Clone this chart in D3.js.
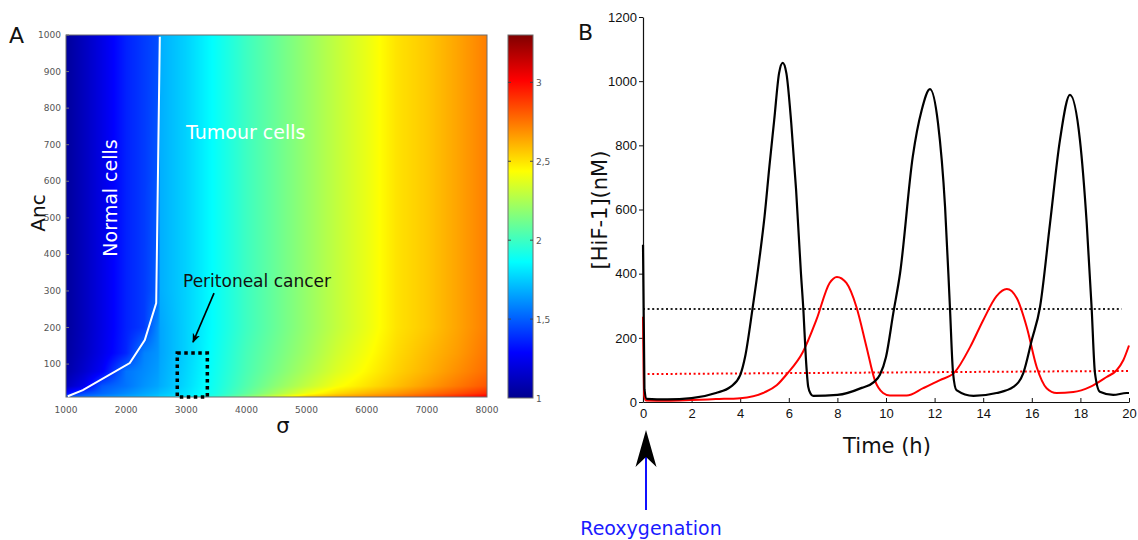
<!DOCTYPE html>
<html><head><meta charset="utf-8">
<script src="https://cdn.jsdelivr.net/npm/d3@7/dist/d3.min.js"></script>
<style>body{margin:0;background:#fff}svg{display:block}</style>
</head><body><svg id="c" width="1138" height="540"></svg>
<script>
// ---------- Panel A data ----------
const sigmaGrid = [1000,1300,1600,2000,2300,2530,2570,3000,3500,4000,4500,5000,5500,6000,6500,7000,7500,8000];
const ancGrid = [10,20,40,80,130,200,300,1000];
const ratioAnc10   = [1.50,1.55,1.60,1.66,1.70,1.74,1.76,1.82,1.96,2.15,2.35,2.55,2.64,2.70,2.76,2.84,2.94,3.05];
const ratioAnc20   = [1.30,1.45,1.52,1.60,1.66,1.70,1.72,1.80,1.92,2.08,2.24,2.40,2.52,2.60,2.67,2.75,2.83,2.92];
const ratioAnc40   = [1.12,1.24,1.48,1.55,1.62,1.66,1.68,1.78,1.91,2.05,2.18,2.30,2.42,2.50,2.58,2.66,2.74,2.82];
const ratioAnc80   = [1.06,1.16,1.27,1.55,1.60,1.64,1.67,1.77,1.90,2.03,2.14,2.25,2.36,2.45,2.54,2.61,2.69,2.77];
const ratioAnc130  = [1.04,1.13,1.23,1.37,1.58,1.62,1.66,1.76,1.89,2.02,2.12,2.22,2.33,2.42,2.52,2.59,2.66,2.75];
const ratioAnc200  = [1.03,1.12,1.22,1.36,1.42,1.60,1.66,1.76,1.88,2.00,2.10,2.20,2.30,2.39,2.50,2.56,2.64,2.73];
const ratioAnc300  = [1.03,1.12,1.22,1.36,1.42,1.50,1.68,1.76,1.88,2.00,2.10,2.20,2.30,2.39,2.50,2.56,2.64,2.73];
const ratioAnc1000 = [1.03,1.12,1.22,1.36,1.42,1.46,1.68,1.76,1.88,2.00,2.10,2.20,2.30,2.39,2.50,2.56,2.64,2.73];
const heatRows = [ratioAnc10,ratioAnc20,ratioAnc40,ratioAnc80,ratioAnc130,ratioAnc200,ratioAnc300,ratioAnc1000];

const boundarySigma = [1030,1280,2060,2310,2500,2560];
const boundaryAnc   = [12,29,103,166,267,995];
const cancerBox = {sigma:[2850,3350], anc:[10,130]};
const sigmaTicks = [1000,2000,3000,4000,5000,6000,7000,8000];
const ancTicks = [100,200,300,400,500,600,700,800,900,1000];
const cbarTicks = [1,1.5,2,2.5,3];
const cbarLabels = ["1","1,5","2","2,5","3"];
const cbarRange = [1,3.3];

// ---------- Panel B data ----------
const tBlack = [0,0.06,0.15,1,2,3,3.6,4.0,4.2,4.5,4.8,5.0,5.2,5.4,5.6,5.75,5.9,6.1,6.3,6.5,6.6,6.7,6.8,6.9,7.0,8.0,9.0,9.5,9.75,10.0,10.3,10.58,11.1,11.47,11.81,12.14,12.43,12.63,12.76,12.9,13.6,14.55,15.24,15.65,16.0,16.34,16.75,17.16,17.57,17.98,18.26,18.46,18.6,18.8,19.35,19.9,20];
const hifBlack = [490,40,10,8,12,28,47,84,140,287,452,577,733,879,1025,1057,1025,870,661,401,287,140,47,26,19,22,44,62,85,140,277,402,764,910,975,869,609,297,90,37,19,28,47,90,193,297,557,817,957,817,557,297,90,32,22,28,28];
const tRed = [0,0.05,0.12,1,2,3,4,5,5.5,5.93,6.58,7.13,7.68,7.98,8.37,8.78,9.2,9.54,9.88,10.16,10.85,11.53,12.22,12.83,13.46,14.0,14.55,14.97,15.38,15.79,16.2,16.61,17.02,17.71,18.4,19.08,19.49,19.77,20];
const hifRed = [266,20,5,4,6,9,12,30,52,88,156,255,371,390,371,297,171,68,28,20,20,43,68,93,171,255,330,352,324,234,109,43,28,31,47,78,99,131,176];
const thrBlackT = [0,19.7], thrBlackV = [290,290];
const thrRedT = [0,20], thrRedV = [87,97];
const timeTicks = [0,2,4,6,8,10,12,14,16,18,20];
const hifTicks = [0,200,400,600,800,1000,1200];

const svg = d3.select("#c");
svg.append("rect").attr("width",1138).attr("height",540).attr("fill","#fff");

// jet colour scale
const jetT = [0,0.125,0.375,0.625,0.875,1];
const jet = d3.scaleLinear()
  .domain(jetT.map(t => cbarRange[0] + t*(cbarRange[1]-cbarRange[0])))
  .range(["#00008f","#0000ff","#00ffff","#ffff00","#ff0000","#800000"])
  .clamp(true);

// ---------- Panel A ----------
const xA = d3.scaleLinear().domain([1000,8000]).range([66,487]);
const yA = d3.scaleLinear().domain([10,1000]).range([397,35]);
const fx = d3.scaleLinear().domain(sigmaGrid).range(d3.range(sigmaGrid.length)).clamp(true);
const fy = d3.scaleLinear().domain(ancGrid).range(d3.range(ancGrid.length)).clamp(true);

const W = Math.round(xA.range()[1]-xA.range()[0]), H = Math.round(yA.range()[0]-yA.range()[1]);
const cv = document.createElement("canvas"); cv.width = W; cv.height = H;
const ctx = cv.getContext("2d");
const img = ctx.createImageData(W,H);
for (let py=0; py<H; py++){
  const a = yA.invert(yA.range()[1]+py+0.5);
  const fi = fy(a), i0 = Math.min(Math.floor(fi), ancGrid.length-2), di = fi - i0;
  for (let px=0; px<W; px++){
    const s = xA.invert(xA.range()[0]+px+0.5);
    const fj = fx(s), j0 = Math.min(Math.floor(fj), sigmaGrid.length-2), dj = fj - j0;
    const v = (1-di)*((1-dj)*heatRows[i0][j0] + dj*heatRows[i0][j0+1]) + di*((1-dj)*heatRows[i0+1][j0] + dj*heatRows[i0+1][j0+1]);
    const c = d3.rgb(jet(v));
    const k = 4*(py*W+px);
    img.data[k]=c.r; img.data[k+1]=c.g; img.data[k+2]=c.b; img.data[k+3]=255;
  }
}
ctx.putImageData(img,0,0);
svg.append("image").attr("x",xA.range()[0]).attr("y",yA.range()[1]).attr("width",W).attr("height",H)
  .attr("preserveAspectRatio","none").attr("href",cv.toDataURL());

svg.append("rect").attr("x",xA.range()[0]).attr("y",yA.range()[1]).attr("width",W).attr("height",H)
  .attr("fill","none").attr("stroke","#6d6d6d").attr("stroke-width",1);

// boundary line
svg.append("path").datum(d3.zip(boundarySigma,boundaryAnc))
  .attr("d", d3.line().x(d=>xA(d[0])).y(d=>yA(d[1])))
  .attr("fill","none").attr("stroke","#fff").attr("stroke-width",2);

// cancer box
svg.append("rect").attr("x",xA(cancerBox.sigma[0])).attr("y",yA(cancerBox.anc[1]))
  .attr("width",xA(cancerBox.sigma[1])-xA(cancerBox.sigma[0])).attr("height",yA(cancerBox.anc[0])-yA(cancerBox.anc[1]))
  .attr("fill","none").attr("stroke","#000").attr("stroke-width",3.5).attr("stroke-dasharray","3.5,3.5");

// axes A
const axA = svg.append("g").attr("font-family","DejaVu Sans").attr("font-size",9).attr("fill","#555");
axA.selectAll("text.xt").data(sigmaTicks).join("text").attr("x",d=>xA(d)).attr("y",413)
  .attr("text-anchor","middle").text(d=>d);
axA.selectAll("text.yt").data(ancTicks).join("text").attr("x",61).attr("y",d=>yA(d)+3)
  .attr("text-anchor","end").text(d=>d);
svg.append("g").selectAll("line").data(ancTicks).join("line")
  .attr("x1",xA.range()[0]).attr("x2",xA.range()[0]+3).attr("y1",d=>yA(d)).attr("y2",d=>yA(d)).attr("stroke","#777");

svg.append("text").attr("transform","translate(45,213) rotate(-90)").attr("text-anchor","middle")
  .attr("font-family","DejaVu Sans").attr("font-size",20).attr("fill","#111").text("Anc");
svg.append("text").attr("x",283).attr("y",433).attr("text-anchor","middle")
  .attr("font-family","DejaVu Sans").attr("font-size",21).attr("fill","#111").text("σ");

svg.append("text").attr("x",9).attr("y",43).attr("font-family","DejaVu Sans").attr("font-size",22).attr("fill","#111").text("A");

svg.append("text").attr("x",186).attr("y",139).attr("font-family","DejaVu Sans").attr("font-size",19).attr("fill","#fff").text("Tumour cells");
svg.append("text").attr("transform","translate(117,198) rotate(-90)").attr("text-anchor","middle")
  .attr("font-family","DejaVu Sans").attr("font-size",19).attr("fill","#fff").text("Normal cells");
svg.append("text").attr("x",183).attr("y",287).attr("font-family","DejaVu Sans").attr("font-size",17).attr("fill","#111").text("Peritoneal cancer");

// annotation arrow
const defs = svg.append("defs");
defs.append("marker").attr("id","ah").attr("viewBox","0 0 10 10").attr("refX",9).attr("refY",5)
  .attr("markerWidth",6).attr("markerHeight",6).attr("orient","auto")
  .append("path").attr("d","M0,1 L10,5 L0,9 L3,5 Z").attr("fill","#000");
svg.append("line").attr("x1",xA(3461)).attr("y1",yA(294)).attr("x2",xA(3112)).attr("y2",yA(160))
  .attr("stroke","#000").attr("stroke-width",1.6).attr("marker-end","url(#ah)");

// colorbar
const yC = d3.scaleLinear().domain(cbarRange).range([398,35]);
const grad = defs.append("linearGradient").attr("id","jetg").attr("x1",0).attr("y1",1).attr("x2",0).attr("y2",0);
grad.selectAll("stop").data(jetT).join("stop").attr("offset",d=>d)
  .attr("stop-color",d=>jet(cbarRange[0]+d*(cbarRange[1]-cbarRange[0])));
svg.append("rect").attr("x",508).attr("y",yC(cbarRange[1])).attr("width",25).attr("height",yC(cbarRange[0])-yC(cbarRange[1]))
  .attr("fill","url(#jetg)").attr("stroke","#6d6d6d");
const cb = svg.append("g");
cb.selectAll("line.l").data(cbarTicks.slice(1)).join("line").attr("x1",508).attr("x2",511).attr("y1",d=>yC(d)).attr("y2",d=>yC(d)).attr("stroke","#444");
cb.selectAll("line.r").data(cbarTicks.slice(1)).join("line").attr("x1",530).attr("x2",533).attr("y1",d=>yC(d)).attr("y2",d=>yC(d)).attr("stroke","#444");
cb.selectAll("text").data(cbarTicks).join("text").attr("x",536).attr("y",d=>yC(d)+4)
  .attr("font-family","DejaVu Sans").attr("font-size",9).attr("fill","#555").text((d,i)=>cbarLabels[i]);

// ---------- Panel B ----------
const xB = d3.scaleLinear().domain([0,20]).range([643,1129]);
const yB = d3.scaleLinear().domain([0,1200]).range([402,17]);

svg.append("text").attr("x",578).attr("y",40).attr("font-family","DejaVu Sans").attr("font-size",22).attr("fill","#111").text("B");

const gx = svg.append("g").attr("transform","translate(0,402)")
  .call(d3.axisBottom(xB).tickValues(timeTicks).tickFormat(d3.format("d")).tickSize(-4).tickPadding(7).tickSizeOuter(0));
const gy = svg.append("g").attr("transform","translate(643,0)")
  .call(d3.axisLeft(yB).tickValues(hifTicks).tickFormat(d3.format("d")).tickSize(4).tickPadding(2).tickSizeOuter(0));
[gx,gy].forEach(g=>{
  g.selectAll("text").attr("font-family","Liberation Sans, Arial").attr("font-size",13).attr("fill","#111");
  g.select(".domain").attr("stroke","#111").attr("stroke-width",1.2);
  g.selectAll(".tick line").attr("stroke","#111");
});

svg.append("text").attr("transform","translate(607,210) rotate(-90)").attr("text-anchor","middle")
  .attr("font-family","DejaVu Sans").attr("font-size",21).attr("fill","#111").text("[HiF-1](nM)");
svg.append("text").attr("x",887).attr("y",453).attr("text-anchor","middle")
  .attr("font-family","DejaVu Sans").attr("font-size",21).attr("fill","#111").text("Time (h)");

const lineB = d3.line().x(d=>xB(d[0])).y(d=>yB(d[1]));
svg.append("path").datum(d3.zip(thrBlackT,thrBlackV)).attr("d",lineB).attr("fill","none")
  .attr("stroke","#222").attr("stroke-width",2).attr("stroke-dasharray","2,2.6");
svg.append("path").datum(d3.zip(thrRedT,thrRedV)).attr("d",lineB).attr("fill","none")
  .attr("stroke","#f00").attr("stroke-width",2).attr("stroke-dasharray","2,2.6");

const curveB = d3.line().x(d=>xB(d[0])).y(d=>yB(d[1])).curve(d3.curveMonotoneX);
svg.append("path").datum(d3.zip(tRed,hifRed)).attr("d",curveB).attr("fill","none")
  .attr("stroke","#f00").attr("stroke-width",2);
svg.append("path").datum(d3.zip(tBlack,hifBlack)).attr("d",curveB).attr("fill","none")
  .attr("stroke","#000").attr("stroke-width",2.2);

// Reoxygenation arrow
const ax = xB(0)+3;
svg.append("line").attr("x1",ax).attr("x2",ax).attr("y1",457).attr("y2",510).attr("stroke","#1010ff").attr("stroke-width",2);
svg.append("path").attr("d",`M${ax},430 L${ax+10.5},467 L${ax},457 L${ax-10.5},467 Z`).attr("fill","#000");
svg.append("text").attr("x",651).attr("y",535).attr("text-anchor","middle")
  .attr("font-family","DejaVu Sans").attr("font-size",19).attr("fill","#1a1aff").text("Reoxygenation");
</script></body></html>
